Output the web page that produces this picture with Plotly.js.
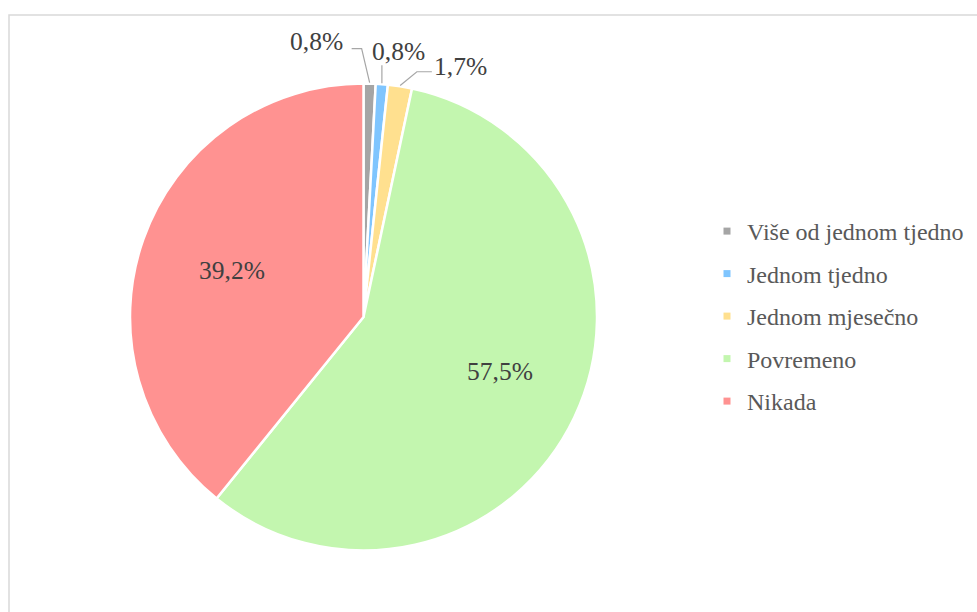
<!DOCTYPE html>
<html><head><meta charset="utf-8">
<script src="https://cdn.plot.ly/plotly-3.0.1.min.js"></script>
<style>html,body{margin:0;padding:0;background:#fff;} #chart{width:977px;height:612px;}</style>
</head><body><div id="chart"></div>
<script>
const categories = ['Više od jednom tjedno', 'Jednom tjedno', 'Jednom mjesečno', 'Povremeno', 'Nikada'];
const counts = [1, 1, 2, 69, 47];
const colors = ['#a5a5a5', '#7fc5fe', '#ffe08f', '#c3f6af', '#ff9291'];

const W = 977, H = 612;
const CX = 363.5, CY = 317, R = 233.5;
const FONT = 'Times New Roman, Liberation Serif, DejaVu Serif, serif';
const total = counts.reduce((a, b) => a + b, 0);
const pctText = counts.map(v => (v / total * 100).toFixed(1).replace('.', ',') + '%');

// label layout: radius (fraction of R) at the slice mid-angle + pixel offsets; optional leader path
const labelLayout = {
  0: {r: 1.004, label: [-53, -41], path: [[-8, -34], [-18, -34]]},
  1: {r: 1.004, label: [16.5, -31.5], path: [[0, -18]]},
  2: {r: 1.004, label: [60, -18.7], path: [[16.7, -13.7], [31.7, -13.7]]},
  3: {r: 0.62, label: [5.6, -7.7]},
  4: {r: 0.597, label: [0, 0]}
};

const px = x => x / W, py = y => 1 - y / H;

const pie = {
  type: 'pie', values: counts, labels: categories, sort: false,
  direction: 'clockwise', rotation: 0,
  marker: {colors: colors, line: {color: '#ffffff', width: 2.5}},
  textinfo: 'none',
  domain: {x: [px(CX - R), px(CX + R)], y: [py(CY + R), py(CY - R)]},
  showlegend: false, hoverinfo: 'label+percent'
};

const legendTraces = categories.map((c, i) => ({
  type: 'scatter', x: [0], y: [0], mode: 'markers', name: c, legendgroup: 'g' + i,
  marker: {symbol: 'square', size: 7, color: colors[i]}, hoverinfo: 'skip'
}));

const shapes = [{
  type: 'rect', xref: 'paper', yref: 'paper',
  x0: px(9), x1: 1.02, y0: -0.02, y1: py(15),
  line: {color: '#d9d9d9', width: 1.5}, fillcolor: 'rgba(0,0,0,0)'
}];
const annotations = [];
let cum = 0;
counts.forEach((v, i) => {
  const mid = (cum + v / 2) / total * 2 * Math.PI;
  cum += v;
  const c = labelLayout[i];
  const ax = CX + c.r * R * Math.sin(mid), ay = CY - c.r * R * Math.cos(mid);
  if (c.path) {
    let d = 'M' + px(ax) + ',' + py(ay);
    c.path.forEach(p => { d += ' L' + px(ax + p[0]) + ',' + py(ay + p[1]); });
    shapes.push({type: 'path', xref: 'paper', yref: 'paper', path: d,
      line: {color: '#a6a6a6', width: 1.2}});
  }
  annotations.push({xref: 'paper', yref: 'paper', x: px(ax + c.label[0]), y: py(ay + c.label[1]),
    xanchor: 'center', yanchor: 'middle', showarrow: false, text: pctText[i],
    font: {family: FONT, size: 25.5, color: '#404040'}});
});

const layout = {
  width: W, height: H, margin: {l: 0, r: 0, t: 0, b: 0},
  paper_bgcolor: '#ffffff', plot_bgcolor: '#ffffff',
  font: {family: FONT},
  xaxis: {visible: false, range: [1, 2], fixedrange: true},
  yaxis: {visible: false, range: [1, 2], fixedrange: true},
  showlegend: true,
  legend: {x: px(707), xanchor: 'left', y: py(209), yanchor: 'top',
    traceorder: 'grouped', tracegroupgap: 8.3,
    font: {family: FONT, size: 24, color: '#595959'},
    bgcolor: 'rgba(0,0,0,0)'},
  shapes: shapes, annotations: annotations
};

Plotly.newPlot('chart', [pie].concat(legendTraces), layout, {displayModeBar: false, staticPlot: true});
</script></body></html>
